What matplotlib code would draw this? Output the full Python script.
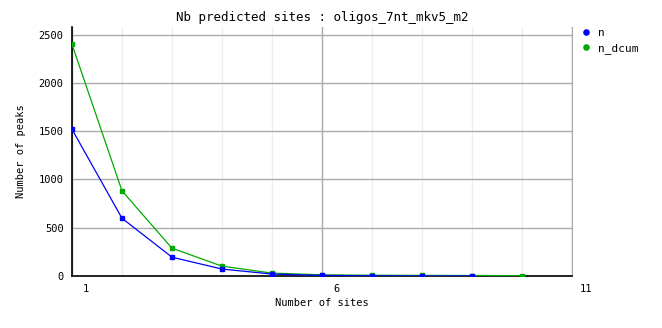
import matplotlib
matplotlib.use("Agg")
import matplotlib.pyplot as plt
import matplotlib.transforms as mtransforms
from matplotlib.ticker import MultipleLocator

# valeurs
sites_n = [1, 2, 3, 4, 5, 6, 7, 8, 9]
n = [1520, 598, 195, 72, 20, 6, 2, 1, 1]
sites_dcum = [1, 2, 3, 4, 5, 6, 7, 8, 9, 10]
n_dcum = [2400, 882, 288, 102, 30, 12, 8, 6, 5, 4]

x_ticks = [1, 6, 11]
y_ticks = [0, 500, 1000, 1500, 2000, 2500]

plt.rcParams['font.family'] = ['DejaVu Sans Mono']
plt.rcParams['font.size'] = 7.5

fig = plt.figure(figsize=(6.62, 3.28), dpi=100)
ax = fig.add_axes([72 / 662, 1 - 276 / 328, 500 / 662, 249 / 328])

ax.plot(sites_n, n, color='#0000ff', lw=0.9, marker='s', ms=2.2, zorder=4, label='n')
ax.plot(sites_dcum, n_dcum, color='#00aa00', lw=0.9, marker='s', ms=2.2, zorder=3, label='n_dcum')

ax.set_xlim(1, 11)
ax.set_ylim(0, 2580)
ax.set_xticks(x_ticks)
ax.xaxis.set_minor_locator(MultipleLocator(1))
ax.set_yticks(y_ticks)

ax.grid(which='major', axis='both', color='#aaaaaa', lw=1)
ax.grid(which='minor', axis='x', color='#eeeeee', lw=1)
ax.set_axisbelow(True)
ax.tick_params(which='both', length=0)
ax.tick_params(axis='y', pad=6)
ax.tick_params(axis='x', pad=6)

# les etiquettes x sont decalees vers la droite
offset = mtransforms.ScaledTranslation(14 / 100, 0, fig.dpi_scale_trans)
for lbl in ax.get_xticklabels():
    lbl.set_transform(lbl.get_transform() + offset)

ax.spines['top'].set_visible(False)
ax.spines['right'].set_color('#aaaaaa')
ax.spines['left'].set_color('black')
ax.spines['bottom'].set_color('black')
ax.spines['left'].set_linewidth(1.2)
ax.spines['bottom'].set_linewidth(1.2)

ax.set_xlabel('Number of sites', labelpad=3)
ax.set_ylabel('Number of peaks', labelpad=9)
ax.set_title('Nb predicted sites : oligos_7nt_mkv5_m2', fontsize=9, pad=4)

leg = ax.legend(loc='upper left', bbox_to_anchor=(1.0, 1.035), frameon=False,
                handlelength=0.8, handletextpad=0.6, labelspacing=0.45,
                markerscale=1.7, fontsize=8)
for h in leg.legend_handles:
    h.set_linestyle('none')
    h.set_marker('o')

fig.savefig('out.png', dpi=100)
